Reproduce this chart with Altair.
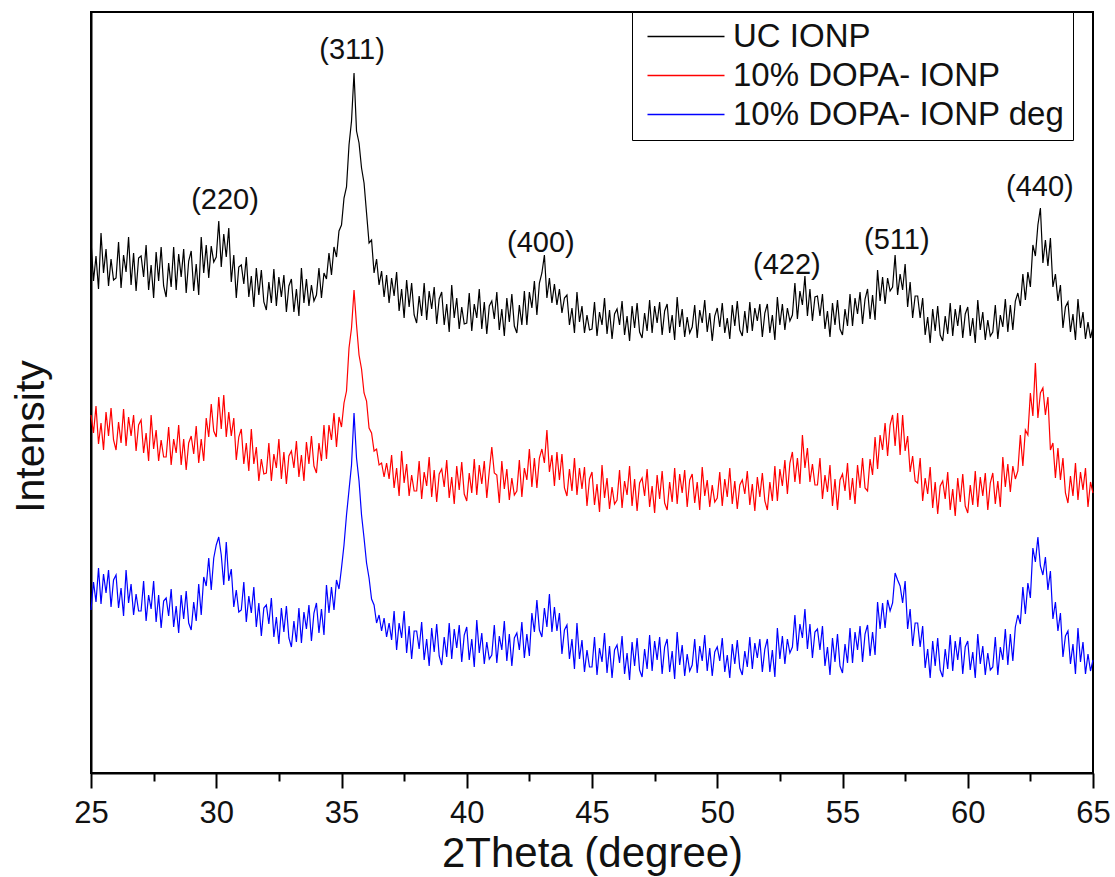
import altair as alt
import pandas as pd
import numpy as np

SERIES = ["UC IONP", "10% DOPA- IONP", "10% DOPA- IONP deg"]
COLORS = ["#000000", "#ff0000", "#0000ff"]

# intensity (a.u.), 2theta from 25 to 65 in steps of 0.1 degree (one row = 1 degree)
uc_ionp = [
    532, 492, 517, 484, 540, 500, 524, 487, 514, 493,
    495, 531, 485, 518, 501, 536, 488, 520, 482, 515,
    517, 496, 528, 483, 508, 475, 521, 492, 526, 487,
    476, 510, 486, 526, 483, 519, 496, 524, 480, 512,
    522, 482, 509, 478, 536, 500, 528, 495, 527, 511,
    516, 552, 506, 539, 516, 545, 491, 518, 475, 506,
    508, 489, 516, 476, 497, 466, 505, 478, 503, 471,
    463, 491, 470, 504, 467, 496, 476, 498, 461, 487,
    494, 461, 484, 457, 505, 470, 494, 467, 488, 472,
    478, 505, 475, 500, 494, 520, 498, 526, 516, 542,
    548, 575, 586, 628, 652, 700, 642, 630, 605, 590,
    560, 530, 533, 500, 514, 488, 502, 476, 498, 470,
    495, 477, 501, 462, 484, 455, 493, 466, 490, 458,
    450, 477, 457, 490, 453, 482, 464, 486, 449, 474,
    481, 448, 469, 441, 488, 455, 475, 444, 466, 449,
    450, 480, 442, 469, 455, 484, 444, 471, 439, 467,
    472, 454, 481, 443, 464, 437, 475, 451, 479, 447,
    440, 468, 448, 482, 448, 481, 465, 492, 458, 490,
    500, 518, 475, 495, 470, 489, 468, 484, 460, 475,
    478, 448, 465, 440, 481, 451, 467, 440, 458, 443,
    444, 471, 437, 461, 448, 475, 439, 463, 434, 459,
    464, 448, 472, 438, 457, 432, 467, 445, 470, 441,
    435, 460, 442, 473, 440, 467, 450, 471, 438, 462,
    469, 440, 458, 433, 476, 446, 464, 436, 456, 440,
    446, 468, 435, 463, 450, 473, 441, 460, 432, 457,
    465, 446, 470, 440, 455, 434, 468, 447, 472, 443,
    437, 462, 440, 471, 442, 465, 452, 469, 436, 460,
    469, 440, 458, 433, 476, 448, 469, 443, 465, 452,
    458, 490, 454, 482, 468, 497, 457, 484, 452, 476,
    477, 457, 479, 444, 462, 436, 470, 448, 473, 444,
    438, 464, 447, 479, 447, 475, 459, 481, 449, 474,
    484, 454, 478, 453, 503, 472, 496, 469, 495, 482,
    486, 518, 478, 499, 483, 509, 466, 491, 455, 477,
    477, 455, 475, 438, 456, 430, 464, 442, 467, 438,
    432, 457, 439, 470, 437, 464, 447, 468, 435, 459,
    466, 437, 455, 430, 473, 443, 461, 433, 453, 437,
    441, 468, 434, 458, 446, 474, 441, 468, 443, 472,
    480, 467, 499, 473, 501, 486, 528, 517, 548, 565,
    510, 533, 507, 535, 486, 499, 472, 488, 445, 466,
    471, 441, 459, 433, 474, 445, 461, 434, 451, 435,
    446,
]

dopa_ionp = [
    358, 340, 367, 329, 350, 323, 361, 337, 365, 333,
    323, 351, 330, 364, 327, 356, 337, 358, 322, 348,
    353, 320, 340, 312, 358, 324, 343, 312, 333, 316,
    316, 346, 308, 334, 320, 348, 308, 334, 303, 330,
    337, 319, 347, 310, 334, 312, 355, 336, 369, 342,
    336, 376, 344, 378, 336, 361, 337, 355, 313, 336,
    344, 309, 330, 302, 344, 309, 326, 292, 314, 299,
    300, 330, 292, 319, 305, 334, 294, 321, 289, 317,
    322, 305, 332, 296, 318, 292, 331, 309, 337, 307,
    300, 330, 312, 348, 314, 348, 333, 360, 326, 356,
    346, 370, 382, 425, 445, 483, 448, 418, 404, 380,
    372, 345, 340, 322, 324, 308, 310, 296, 310, 294,
    318, 285, 305, 277, 322, 290, 309, 277, 298, 282,
    282, 312, 274, 301, 287, 316, 276, 303, 271, 299,
    304, 286, 313, 275, 296, 269, 307, 283, 311, 279,
    272, 300, 280, 314, 278, 308, 289, 312, 275, 302,
    326, 300, 298, 270, 312, 284, 304, 273, 295, 278,
    282, 313, 276, 305, 293, 324, 286, 315, 285, 315,
    324, 310, 343, 301, 318, 287, 321, 293, 319, 285,
    277, 304, 282, 315, 278, 305, 284, 306, 267, 294,
    301, 268, 289, 261, 308, 275, 295, 264, 286, 269,
    273, 303, 265, 292, 278, 307, 267, 294, 262, 290,
    295, 277, 304, 266, 287, 260, 298, 274, 302, 270,
    263, 291, 271, 305, 269, 299, 280, 303, 266, 293,
    299, 270, 291, 263, 306, 277, 293, 266, 288, 271,
    275, 301, 267, 294, 276, 305, 269, 292, 264, 288,
    293, 279, 302, 268, 289, 262, 296, 276, 300, 272,
    263, 291, 272, 307, 272, 304, 287, 313, 279, 310,
    321, 291, 315, 289, 338, 305, 325, 291, 309, 288,
    288, 315, 274, 298, 281, 308, 267, 294, 263, 293,
    299, 282, 310, 273, 295, 269, 308, 285, 315, 285,
    282, 314, 298, 336, 304, 338, 323, 350, 317, 348,
    358, 327, 360, 318, 358, 322, 337, 301, 317, 292,
    290, 315, 272, 295, 279, 306, 265, 291, 259, 287,
    292, 274, 301, 263, 284, 257, 295, 271, 299, 267,
    260, 288, 268, 302, 266, 296, 277, 300, 263, 290,
    300, 269, 292, 266, 316, 286, 309, 281, 307, 294,
    302, 338, 307, 343, 338, 380, 357, 410, 355, 380,
    385, 358, 376, 323, 330, 295, 325, 293, 315, 280,
    270, 297, 277, 310, 273, 301, 283, 305, 266, 291,
    280,
]

dopa_ionp_deg = [
    163, 191, 171, 205, 169, 199, 180, 203, 166, 193,
    198, 165, 185, 157, 203, 170, 189, 158, 179, 162,
    162, 192, 152, 178, 164, 192, 151, 178, 145, 172,
    175, 157, 184, 146, 167, 140, 178, 154, 182, 150,
    143, 171, 152, 189, 158, 196, 187, 215, 183, 215,
    228, 236, 218, 188, 231, 192, 204, 166, 183, 161,
    163, 191, 151, 177, 160, 186, 146, 170, 137, 165,
    168, 149, 175, 136, 156, 129, 165, 141, 167, 135,
    126, 152, 131, 165, 130, 161, 144, 168, 132, 160,
    170, 140, 164, 138, 188, 160, 186, 163, 193, 184,
    205, 228, 258, 283, 308, 360, 315, 292, 258, 235,
    210, 195, 174, 168, 150, 158, 142, 155, 136, 150,
    133, 162, 123, 150, 135, 162, 120, 147, 114, 142,
    142, 124, 151, 113, 134, 107, 145, 121, 149, 117,
    108, 136, 116, 150, 114, 144, 125, 148, 111, 138,
    146, 113, 134, 106, 153, 120, 140, 109, 131, 114,
    118, 148, 110, 137, 123, 152, 112, 139, 107, 135,
    140, 123, 151, 115, 139, 117, 160, 141, 173, 143,
    136, 165, 146, 179, 141, 166, 142, 160, 119, 143,
    148, 114, 134, 104, 150, 114, 133, 101, 123, 106,
    106, 136, 98, 125, 111, 140, 100, 127, 95, 123,
    128, 110, 137, 99, 120, 93, 131, 107, 135, 103,
    96, 124, 104, 138, 102, 132, 113, 136, 99, 126,
    134, 101, 122, 94, 141, 108, 128, 97, 119, 102,
    108, 134, 100, 127, 112, 138, 102, 125, 97, 121,
    126, 112, 135, 101, 118, 95, 129, 109, 133, 105,
    98, 122, 106, 136, 104, 130, 115, 134, 101, 124,
    134, 101, 123, 96, 145, 114, 137, 109, 134, 120,
    126, 158, 122, 149, 135, 164, 124, 149, 115, 141,
    144, 123, 147, 107, 126, 98, 135, 111, 139, 107,
    100, 129, 110, 145, 110, 141, 123, 147, 111, 139,
    148, 117, 141, 118, 171, 144, 170, 145, 173, 162,
    170, 200, 193, 187, 170, 192, 144, 164, 127, 150,
    150, 126, 147, 105, 124, 95, 132, 107, 135, 103,
    96, 124, 104, 138, 102, 132, 113, 136, 99, 126,
    132, 103, 121, 95, 139, 109, 127, 98, 120, 103,
    106, 136, 98, 126, 113, 144, 108, 139, 112, 146,
    158, 149, 186, 159, 190, 175, 225, 211, 236, 207,
    198, 216, 183, 202, 154, 171, 142, 160, 116, 137,
    142, 109, 129, 99, 145, 111, 131, 99, 119, 102,
    113,
]

peak_labels = ["(220)", "(311)", "(400)", "(422)", "(511)", "(440)"]
peak_x = [30.35, 35.42, 42.96, 52.78, 57.17, 62.88]
peak_y = [573, 723, 530, 508, 533, 586]

x_ticks = [25, 27.5, 30, 32.5, 35, 37.5, 40, 42.5, 45, 47.5, 50,
           52.5, 55, 57.5, 60, 62.5, 65]

frames = []
for name, vals in zip(SERIES, [uc_ionp, dopa_ionp, dopa_ionp_deg]):
    xs = np.linspace(25, 65, len(vals))
    frames.append(pd.DataFrame({
        "two_theta": xs,
        "intensity": vals,
        "series": name,
        "idx": np.arange(len(vals)),
    }))
df = pd.concat(frames, ignore_index=True)

peaks = pd.DataFrame({"label": peak_labels, "two_theta": peak_x, "intensity": peak_y})

FONT = "Liberation Sans"
NBSP2 = "\u00a0\u00a0"

x_scale = alt.Scale(domain=[25, 65], nice=False, zero=False)
y_scale = alt.Scale(domain=[0, 761], nice=False, zero=False)

x_axis = alt.Axis(
    values=x_ticks,
    labelExpr="datum.value % 5 == 0 ? datum.label : ''",
    tickSize={"condition": {"test": "datum.value % 5 != 0", "value": 8}, "value": 15},
    tickWidth=2,
    tickColor="#000000",
    domainWidth=2,
    domainColor="#000000",
    labelFontSize=31,
    labelFont=FONT,
    labelColor="#111111",
    labelPadding=10,
    labelFlush=False,
    grid=False,
    title="2Theta (degree)",
    titleFont=FONT,
    titleFontSize=42,
    titleFontWeight="normal",
    titleColor="#111111",
    titlePadding=5,
)

y_axis = alt.Axis(
    labels=False,
    ticks=False,
    grid=False,
    domainWidth=2,
    domainColor="#000000",
    title="Intensity",
    titleFont=FONT,
    titleFontSize=41,
    titleFontWeight="normal",
    titleColor="#111111",
    titleBaseline="alphabetic",
    titleX=-48,
    titleY=424,
)

lines = alt.Chart(df).mark_line(strokeWidth=1.2, interpolate="linear").encode(
    x=alt.X("two_theta:Q", scale=x_scale, axis=x_axis),
    y=alt.Y("intensity:Q", scale=y_scale, axis=y_axis),
    color=alt.Color(
        "series:N",
        scale=alt.Scale(domain=SERIES, range=COLORS),
        sort=SERIES,
        legend=alt.Legend(
            title=None,
            orient="none",
            legendX=541,
            legendY=0,
            symbolType="M-1.8,0H13.6",
            symbolSize=100,
            symbolStrokeWidth=1.5,
            labelFont=FONT,
            labelFontSize=33,
            labelColor="#111111",
            labelOffset=60,
            labelLimit=600,
            labelExpr="datum.label + '" + NBSP2 + "'",
            padding=8,
            rowPadding=5,
            fillColor="white",
            strokeColor="#000000",
        ),
    ),
    order=alt.Order("idx:Q"),
)

text = alt.Chart(peaks).mark_text(font=FONT, fontSize=29, color="#111111").encode(
    x=alt.X("two_theta:Q", scale=x_scale),
    y=alt.Y("intensity:Q", scale=y_scale),
    text="label:N",
)

chart = alt.layer(lines, text).properties(
    width=1002,
    height=761,
    autosize=alt.AutoSizeParams(type="none"),
    padding={"left": 91, "top": 12, "right": 22, "bottom": 104},
    background="white",
).configure_view(
    stroke="#000000",
    strokeWidth=2,
)

chart.save("out.html", embed_options={"renderer": "svg", "actions": False})
